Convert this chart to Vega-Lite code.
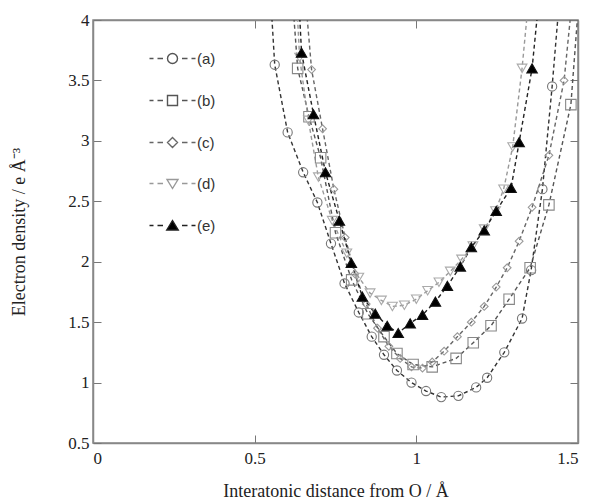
{
  "$schema": "https://vega.github.io/schema/vega-lite/v6.json",
  "autosize": "none",
  "width": 485,
  "height": 423,
  "padding": {"left": 93, "top": 20, "right": 19, "bottom": 61},
  "background": "white",
  "config": {
    "view": {"stroke": "#888", "strokeWidth": 1.5},
    "axis": {
      "grid": false,
      "domainColor": "#888",
      "domainWidth": 1.5,
      "tickColor": "#777",
      "tickSize": -8,
      "labelFont": "Liberation Serif",
      "labelFontSize": 17,
      "labelColor": "#222",
      "titleFont": "Liberation Serif",
      "titleFontSize": 18,
      "titleFontWeight": "normal",
      "titleColor": "#222"
    },
    "legend": {
      "orient": "none", "legendX": 72, "legendY": 31, "padding": 0,
      "symbolSize": 100, "symbolOpacity": 1, "symbolStrokeWidth": 1.4,
      "labelOffset": 17, "rowPadding": 25,
      "labelFont": "Liberation Sans", "labelFontSize": 15, "labelColor": "#333"
    }
  },
  "data": {
    "values": [
      {"s": "(a)", "x": 0.548, "y": 4.25},
      {"s": "(a)", "x": 0.562, "y": 3.63},
      {"s": "(a)", "x": 0.602, "y": 3.07},
      {"s": "(a)", "x": 0.650, "y": 2.74},
      {"s": "(a)", "x": 0.694, "y": 2.49},
      {"s": "(a)", "x": 0.736, "y": 2.15},
      {"s": "(a)", "x": 0.778, "y": 1.82},
      {"s": "(a)", "x": 0.822, "y": 1.58},
      {"s": "(a)", "x": 0.862, "y": 1.38},
      {"s": "(a)", "x": 0.900, "y": 1.23},
      {"s": "(a)", "x": 0.940, "y": 1.10},
      {"s": "(a)", "x": 0.985, "y": 1.00},
      {"s": "(a)", "x": 1.030, "y": 0.93},
      {"s": "(a)", "x": 1.077, "y": 0.88},
      {"s": "(a)", "x": 1.130, "y": 0.89},
      {"s": "(a)", "x": 1.185, "y": 0.96},
      {"s": "(a)", "x": 1.219, "y": 1.04},
      {"s": "(a)", "x": 1.272, "y": 1.25},
      {"s": "(a)", "x": 1.327, "y": 1.53},
      {"s": "(a)", "x": 1.355, "y": 1.93},
      {"s": "(a)", "x": 1.390, "y": 2.60},
      {"s": "(a)", "x": 1.420, "y": 3.45},
      {"s": "(a)", "x": 1.445, "y": 4.25},
      {"s": "(b)", "x": 0.615, "y": 4.25},
      {"s": "(b)", "x": 0.633, "y": 3.60},
      {"s": "(b)", "x": 0.668, "y": 3.20},
      {"s": "(b)", "x": 0.704, "y": 2.86},
      {"s": "(b)", "x": 0.750, "y": 2.24},
      {"s": "(b)", "x": 0.800, "y": 1.85},
      {"s": "(b)", "x": 0.850, "y": 1.57},
      {"s": "(b)", "x": 0.900, "y": 1.38},
      {"s": "(b)", "x": 0.940, "y": 1.24},
      {"s": "(b)", "x": 0.990, "y": 1.15},
      {"s": "(b)", "x": 1.049, "y": 1.13},
      {"s": "(b)", "x": 1.123, "y": 1.20},
      {"s": "(b)", "x": 1.176, "y": 1.33},
      {"s": "(b)", "x": 1.231, "y": 1.47},
      {"s": "(b)", "x": 1.287, "y": 1.69},
      {"s": "(b)", "x": 1.352, "y": 1.95},
      {"s": "(b)", "x": 1.410, "y": 2.47},
      {"s": "(b)", "x": 1.478, "y": 3.30},
      {"s": "(b)", "x": 1.505, "y": 4.25},
      {"s": "(c)", "x": 0.655, "y": 4.25},
      {"s": "(c)", "x": 0.676, "y": 3.59},
      {"s": "(c)", "x": 0.710, "y": 3.10},
      {"s": "(c)", "x": 0.745, "y": 2.60},
      {"s": "(c)", "x": 0.780, "y": 2.20},
      {"s": "(c)", "x": 0.810, "y": 1.90},
      {"s": "(c)", "x": 0.845, "y": 1.65},
      {"s": "(c)", "x": 0.880, "y": 1.45},
      {"s": "(c)", "x": 0.915, "y": 1.30},
      {"s": "(c)", "x": 0.950, "y": 1.20},
      {"s": "(c)", "x": 0.985, "y": 1.13},
      {"s": "(c)", "x": 1.019, "y": 1.12},
      {"s": "(c)", "x": 1.049, "y": 1.17},
      {"s": "(c)", "x": 1.086, "y": 1.26},
      {"s": "(c)", "x": 1.127, "y": 1.38},
      {"s": "(c)", "x": 1.170, "y": 1.50},
      {"s": "(c)", "x": 1.210, "y": 1.63},
      {"s": "(c)", "x": 1.247, "y": 1.79},
      {"s": "(c)", "x": 1.281, "y": 1.95},
      {"s": "(c)", "x": 1.318, "y": 2.17},
      {"s": "(c)", "x": 1.358, "y": 2.45},
      {"s": "(c)", "x": 1.410, "y": 2.88},
      {"s": "(c)", "x": 1.457, "y": 3.50},
      {"s": "(c)", "x": 1.485, "y": 4.25},
      {"s": "(d)", "x": 0.628, "y": 4.25},
      {"s": "(d)", "x": 0.639, "y": 3.69},
      {"s": "(d)", "x": 0.666, "y": 3.17},
      {"s": "(d)", "x": 0.697, "y": 2.70},
      {"s": "(d)", "x": 0.740, "y": 2.34},
      {"s": "(d)", "x": 0.785, "y": 2.07},
      {"s": "(d)", "x": 0.822, "y": 1.87},
      {"s": "(d)", "x": 0.857, "y": 1.74},
      {"s": "(d)", "x": 0.892, "y": 1.68},
      {"s": "(d)", "x": 0.926, "y": 1.63},
      {"s": "(d)", "x": 0.963, "y": 1.64},
      {"s": "(d)", "x": 1.000, "y": 1.69},
      {"s": "(d)", "x": 1.035, "y": 1.76},
      {"s": "(d)", "x": 1.070, "y": 1.83},
      {"s": "(d)", "x": 1.105, "y": 1.92},
      {"s": "(d)", "x": 1.140, "y": 2.02},
      {"s": "(d)", "x": 1.175, "y": 2.13},
      {"s": "(d)", "x": 1.210, "y": 2.27},
      {"s": "(d)", "x": 1.245, "y": 2.42},
      {"s": "(d)", "x": 1.270, "y": 2.60},
      {"s": "(d)", "x": 1.298, "y": 2.95},
      {"s": "(d)", "x": 1.327, "y": 3.60},
      {"s": "(d)", "x": 1.350, "y": 4.25},
      {"s": "(e)", "x": 0.635, "y": 4.25},
      {"s": "(e)", "x": 0.645, "y": 3.73},
      {"s": "(e)", "x": 0.682, "y": 3.22},
      {"s": "(e)", "x": 0.719, "y": 2.74},
      {"s": "(e)", "x": 0.762, "y": 2.34},
      {"s": "(e)", "x": 0.799, "y": 1.99},
      {"s": "(e)", "x": 0.833, "y": 1.71},
      {"s": "(e)", "x": 0.873, "y": 1.57},
      {"s": "(e)", "x": 0.910, "y": 1.47},
      {"s": "(e)", "x": 0.944, "y": 1.41},
      {"s": "(e)", "x": 0.981, "y": 1.49},
      {"s": "(e)", "x": 1.019, "y": 1.56},
      {"s": "(e)", "x": 1.059, "y": 1.67},
      {"s": "(e)", "x": 1.096, "y": 1.80},
      {"s": "(e)", "x": 1.136, "y": 1.96},
      {"s": "(e)", "x": 1.170, "y": 2.12},
      {"s": "(e)", "x": 1.210, "y": 2.26},
      {"s": "(e)", "x": 1.247, "y": 2.42},
      {"s": "(e)", "x": 1.293, "y": 2.61},
      {"s": "(e)", "x": 1.318, "y": 2.99},
      {"s": "(e)", "x": 1.358, "y": 3.60},
      {"s": "(e)", "x": 1.382, "y": 4.25}
    ]
  },
  "layer": [
    {
      "mark": {"type": "line", "clip": true, "strokeDash": [4, 3], "strokeWidth": 1.4},
      "encoding": {
        "x": {"field": "x", "type": "quantitative", "scale": {"domain": [0, 1.5], "nice": false},
              "axis": {"orient": "bottom", "values": [0, 0.5, 1, 1.5], "format": "~g", "labelPadding": 15, "title": "Interatonic distance from O / Å", "titlePadding": 16}},
        "y": {"field": "y", "type": "quantitative", "scale": {"domain": [0.5, 4], "nice": false},
              "axis": {"orient": "left", "values": [0.5, 1, 1.5, 2, 2.5, 3, 3.5, 4], "format": "~g", "labelPadding": 12, "title": "Electron density / e Å⁻³", "titlePadding": 39}},
        "detail": {"field": "s"},
        "stroke": {"value": "#333333",
                   "condition": [
                     {"test": "datum.s === '(b)'", "value": "#555555"},
                     {"test": "datum.s === '(c)'", "value": "#666666"},
                     {"test": "datum.s === '(d)'", "value": "#999999"},
                     {"test": "datum.s === '(e)'", "value": "#222222"}
                   ]}
      }
    },
    {
      "mark": {"type": "point", "clip": true, "filled": true, "strokeWidth": 1.1, "opacity": 1},
      "encoding": {
        "x": {"field": "x", "type": "quantitative", "axis": {"orient": "top", "values": [0, 0.5, 1, 1.5], "labels": false, "title": null}},
        "y": {"field": "y", "type": "quantitative", "axis": {"orient": "right", "values": [0.5, 1, 1.5, 2, 2.5, 3, 3.5, 4], "labels": false, "title": null}},
        "shape": {"value": "circle",
                  "condition": [
                    {"test": "datum.s === '(b)'", "value": "square"},
                    {"test": "datum.s === '(c)'", "value": "diamond"},
                    {"test": "datum.s === '(d)'", "value": "triangle-down"},
                    {"test": "datum.s === '(e)'", "value": "triangle-up"}
                  ]},
        "stroke": {"value": "#777777",
                   "condition": [
                     {"test": "datum.s === '(b)'", "value": "#888888"},
                     {"test": "datum.s === '(c)'", "value": "#999999"},
                     {"test": "datum.s === '(d)'", "value": "#aaaaaa"},
                     {"test": "datum.s === '(e)'", "value": "#111111"}
                   ]},
        "fill": {"value": "transparent", "condition": {"test": "datum.s === '(e)'", "value": "#000000"}},
        "size": {"value": 85,
                 "condition": [
                   {"test": "datum.s === '(b)'", "value": 110},
                   {"test": "datum.s === '(c)'", "value": 60},
                   {"test": "datum.s === '(d)'", "value": 95},
                   {"test": "datum.s === '(e)'", "value": 110}
                 ]}
      }
    },
    {
      "mark": {"type": "point", "clip": true, "filled": true, "opacity": 0},
      "encoding": {
        "x": {"field": "x", "type": "quantitative", "axis": null},
        "y": {"field": "y", "type": "quantitative", "axis": null},
        "shape": {"field": "s", "type": "nominal",
                  "scale": {"domain": ["(a)", "(b)", "(c)", "(d)", "(e)"],
                            "range": [
                              "M-4.6,0H-3.8M-3.0,0H-1.9M1.9,0H3.0M3.8,0H4.6M1,0A1,1,0,1,1,-1,0A1,1,0,1,1,1,0Z",
                              "M-4.6,0H-3.8M-3.0,0H-1.9M1.9,0H3.0M3.8,0H4.6M-1,-1H1V1H-1Z",
                              "M-4.6,0H-3.8M-3.0,0H-1.9M1.9,0H3.0M3.8,0H4.6M0,-1L1,0L0,1L-1,0Z",
                              "M-4.6,0H-3.8M-3.0,0H-1.9M1.9,0H3.0M3.8,0H4.6M-1.1,-0.8L1.1,-0.8L0,1Z",
                              "M-4.6,0H-3.8M-3.0,0H-1.9M1.9,0H3.0M3.8,0H4.6M0,-1L1.15,0.9L-1.15,0.9Z"
                            ]},
                  "legend": {"title": null}},
        "fill": {"field": "s", "type": "nominal",
                 "scale": {"domain": ["(a)", "(b)", "(c)", "(d)", "(e)"], "range": ["transparent", "transparent", "transparent", "transparent", "#000000"]},
                 "legend": {"title": null}},
        "stroke": {"field": "s", "type": "nominal",
                   "scale": {"domain": ["(a)", "(b)", "(c)", "(d)", "(e)"], "range": ["#555555", "#555555", "#666666", "#999999", "#222222"]},
                   "legend": {"title": null}}
      }
    }
  ],
  "resolve": {
    "axis": {"x": "independent", "y": "independent"}
  }
}
